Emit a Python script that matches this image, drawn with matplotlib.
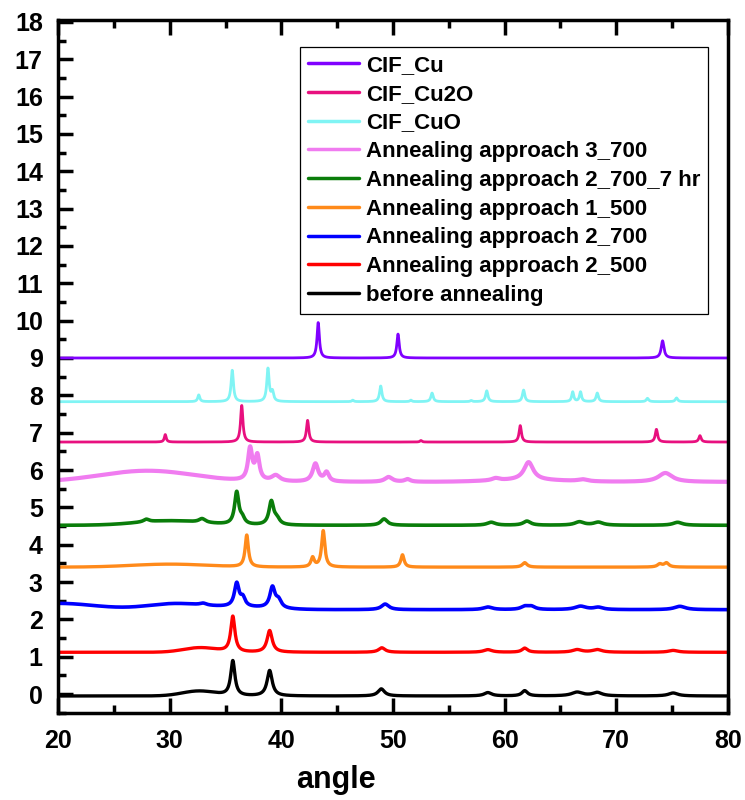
import numpy as np
import matplotlib
matplotlib.use("Agg")
import matplotlib.pyplot as plt
from matplotlib.ticker import MultipleLocator

plt.rcParams['font.family'] = ['Liberation Sans', 'DejaVu Sans']
plt.rcParams['font.weight'] = 'bold'

# ---- data: series labels, colors, offsets, peaks (center, height, fwhm) ----
labels = ["CIF_Cu", "CIF_Cu2O", "CIF_CuO", "Annealing approach 3_700",
          "Annealing approach 2_700_7 hr", "Annealing approach 1_500",
          "Annealing approach 2_700", "Annealing approach 2_500", "before annealing"]
colors = ["#8000FF", "#E8107F", "#80F4F4", "#F07CF0", "#0A7D0A", "#FF8A1A",
          "#0000FF", "#FF0000", "#000000"]
offsets = [9.0, 6.75, 7.83, 5.68, 4.52, 3.40, 2.26, 1.12, -0.05]

# sharp peaks (Lorentzian): centers, heights, fwhm
cu_c = [43.3, 50.45, 74.15]
cu_h = [0.95, 0.64, 0.46]
cu_w = [0.25, 0.25, 0.3]

cu2o_c = [29.6, 36.45, 42.35, 52.5, 61.4, 73.6, 77.5]
cu2o_h = [0.20, 0.98, 0.58, 0.04, 0.44, 0.34, 0.17]
cu2o_w = [0.2, 0.25, 0.25, 0.2, 0.25, 0.25, 0.25]

cuo_c = [32.6, 35.6, 38.8, 39.2, 46.4, 48.9, 51.6, 53.5, 57.0, 58.4, 61.7, 66.1, 66.8, 68.3, 72.8, 75.4]
cuo_h = [0.18, 0.84, 0.88, 0.25, 0.04, 0.42, 0.04, 0.23, 0.03, 0.29, 0.31, 0.26, 0.26, 0.23, 0.09, 0.10]
cuo_w = [0.22, 0.25, 0.25, 0.25, 0.2, 0.25, 0.2, 0.25, 0.2, 0.25, 0.25, 0.22, 0.22, 0.25, 0.25, 0.25]

ap3_c = [37.2, 37.85, 39.5, 43.05, 44.05, 49.6, 51.3, 59.2, 62.15, 67.0, 74.4]
ap3_h = [0.85, 0.65, 0.16, 0.48, 0.24, 0.13, 0.07, 0.06, 0.48, 0.05, 0.24]
ap3_w = [0.45, 0.45, 0.9, 0.6, 0.5, 0.8, 0.6, 0.8, 1.0, 1.0, 1.5]

ap27_c = [27.9, 32.9, 36.0, 36.5, 39.1, 39.6, 49.2, 58.8, 62.0, 66.7, 68.4, 75.5]
ap27_h = [0.07, 0.10, 0.86, 0.15, 0.62, 0.15, 0.17, 0.08, 0.11, 0.09, 0.08, 0.08]
ap27_w = [0.6, 0.7, 0.45, 0.5, 0.5, 0.6, 0.7, 0.9, 0.8, 1.0, 1.0, 1.0]

ap1_c = [36.9, 42.8, 43.75, 50.85, 61.8, 73.9, 74.5]
ap1_h = [0.85, 0.25, 0.97, 0.33, 0.12, 0.08, 0.11]
ap1_w = [0.35, 0.35, 0.35, 0.35, 0.5, 0.5, 0.5]

ap2_c = [33.0, 36.0, 36.55, 39.2, 39.75, 49.3, 58.5, 61.8, 62.4, 66.8, 68.4, 75.7]
ap2_h = [0.05, 0.62, 0.22, 0.55, 0.20, 0.15, 0.07, 0.08, 0.08, 0.09, 0.06, 0.09]
ap2_w = [0.7, 0.5, 0.5, 0.55, 0.6, 0.8, 1.0, 0.8, 0.8, 1.2, 1.0, 1.2]

ap25_c = [35.65, 38.95, 49.0, 58.5, 61.8, 66.5, 68.3, 75.1]
ap25_h = [0.95, 0.58, 0.12, 0.07, 0.11, 0.07, 0.07, 0.05]
ap25_w = [0.45, 0.55, 0.7, 0.9, 0.6, 1.0, 1.0, 1.0]

before_c = [35.65, 38.95, 48.95, 58.5, 61.8, 66.5, 68.3, 75.1]
before_h = [0.93, 0.68, 0.19, 0.09, 0.14, 0.10, 0.09, 0.08]
before_w = [0.45, 0.55, 0.7, 0.8, 0.6, 1.2, 1.0, 1.0]

# broad humps (Gaussian): centers, heights, fwhm
ap3_hc = [28.0, 62.0]
ap3_hh = [0.30, 0.05]
ap3_hw = [10.0, 8.0]
ap27_hc = [30.0]
ap27_hh = [0.12]
ap27_hw = [7.0]
ap1_hc = [30.0]
ap1_hh = [0.08]
ap1_hw = [8.0]
ap2_hc = [20.0, 30.5, 36.5]
ap2_hh = [0.17, 0.16, 0.06]
ap2_hw = [8.0, 6.0, 6.0]
ap25_hc = [32.7]
ap25_hh = [0.12]
ap25_hw = [3.5]
before_hc = [32.6]
before_hh = [0.13]
before_hw = [3.5]

peaks = [(cu_c, cu_h, cu_w), (cu2o_c, cu2o_h, cu2o_w), (cuo_c, cuo_h, cuo_w),
         (ap3_c, ap3_h, ap3_w), (ap27_c, ap27_h, ap27_w), (ap1_c, ap1_h, ap1_w),
         (ap2_c, ap2_h, ap2_w), (ap25_c, ap25_h, ap25_w), (before_c, before_h, before_w)]
humps = [([], [], []), ([], [], []), ([], [], []),
         (ap3_hc, ap3_hh, ap3_hw), (ap27_hc, ap27_hh, ap27_hw), (ap1_hc, ap1_hh, ap1_hw),
         (ap2_hc, ap2_hh, ap2_hw), (ap25_hc, ap25_hh, ap25_hw), (before_hc, before_hh, before_hw)]
widths = [2.0, 2.0, 2.0, 3.0, 2.6, 2.4, 2.6, 2.4, 2.4]

x = np.linspace(20, 80, 4001)


def profile(off, pk, hp):
    y = np.full_like(x, off)
    for c, h, w in zip(*pk):
        y += h / (1 + ((x - c) / (w / 2)) ** 2)
    for c, h, w in zip(*hp):
        y += h * np.exp(-4 * np.log(2) * ((x - c) / w) ** 2)
    return y


fig = plt.figure(figsize=(7.45, 8.0), dpi=100)
ax = fig.add_axes([0.078, 0.109, 0.899, 0.866])

order = list(range(len(labels)))[::-1]
handles = {}
for i in order:
    ln, = ax.plot(x, profile(offsets[i], peaks[i], humps[i]), color=colors[i],
                  lw=widths[i], label=labels[i], solid_capstyle='round')
    handles[i] = ln

ax.set_xlim(20, 80)
ax.set_ylim(-0.5, 18.05)
ax.xaxis.set_major_locator(MultipleLocator(10))
ax.xaxis.set_minor_locator(MultipleLocator(5))
ax.yaxis.set_major_locator(MultipleLocator(1))
ax.yaxis.set_minor_locator(MultipleLocator(0.5))
ax.tick_params(axis='both', which='major', direction='in', length=11, width=2.5,
               labelsize=18, top=True, right=False)
ax.tick_params(axis='x', which='major', pad=12)
ax.tick_params(axis='y', which='major', pad=11)
ax.tick_params(axis='both', which='minor', direction='in', length=6, width=2.5,
               top=True, right=False)
for lab in ax.get_xticklabels() + ax.get_yticklabels():
    lab.set_fontweight('bold')
for s in ax.spines.values():
    s.set_linewidth(2.5)

ax.set_xlabel("angle", fontsize=22, fontweight='bold')
ax.xaxis.set_label_coords(0.415, -0.075)

leg = ax.legend([handles[i] for i in range(len(labels))], labels,
                loc='upper left', bbox_to_anchor=(0.361, 0.961),
                prop={'size': 16, 'weight': 'bold'}, frameon=True, fancybox=False,
                edgecolor='black', framealpha=1, handlelength=2.3, handletextpad=0.32,
                labelspacing=0.35, borderpad=0.35, borderaxespad=0)
leg.get_frame().set_linewidth(0.9)
for l in leg.get_lines():
    l.set_linewidth(2.5)

fig.savefig("out.png", dpi=100)
